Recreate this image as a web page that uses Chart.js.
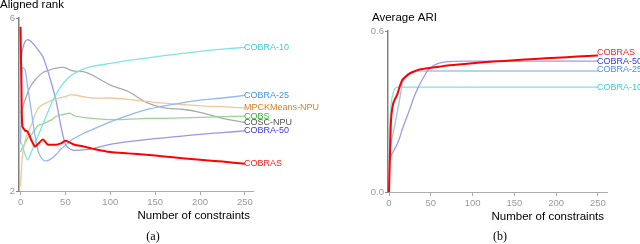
<!DOCTYPE html>
<html>
<head>
<meta charset="utf-8">
<script src="https://cdn.jsdelivr.net/npm/chart.js@4"></script>
<style>
  html, body { margin: 0; padding: 0; background: #fff; }
  #wrap { position: relative; width: 640px; height: 244px; }
  canvas { position: absolute; top: 0; }
  #rank { left: 0; }
  #ari { left: 320px; }
</style>
</head>
<body>
<div id="wrap">
  <canvas id="rank" width="320" height="244"></canvas>
  <canvas id="ari" width="320" height="244"></canvas>
</div>
<script>
// (a) aligned rank
const rankX = [0, 1, 2, 5, 8, 12, 16, 20, 25, 30, 35, 40, 45, 50, 55, 60, 70, 80, 100, 120, 140, 160, 180, 200, 225, 250];
const rankCobras = [5.8, 4.4, 3.5, 3.4, 3.37, 3.18, 3.03, 3.1, 3.19, 3.08, 3.07, 3.07, 3.1, 3.16, 3.12, 3.07, 3.03, 2.98, 2.9, 2.87, 2.84, 2.8, 2.76, 2.72, 2.68, 2.63];
const rankCobra10 = [3.1, 3.1, 3.05, 2.85, 2.72, 2.9, 3.1, 3.3, 3.55, 3.8, 4.05, 4.25, 4.42, 4.55, 4.65, 4.72, 4.82, 4.88, 4.95, 5.02, 5.07, 5.13, 5.18, 5.23, 5.28, 5.32];
const rankCobra25 = [3.1, 4.0, 4.85, 4.8, 4.4, 3.85, 3.3, 2.9, 2.72, 2.7, 2.76, 2.85, 2.97, 3.05, 3.15, 3.22, 3.33, 3.42, 3.6, 3.75, 3.88, 3.97, 4.04, 4.1, 4.15, 4.21];
const rankCobra50 = [5.0, 5.1, 5.25, 5.45, 5.5, 5.45, 5.36, 5.25, 5.1, 4.8, 4.45, 4.05, 3.5, 3.08, 2.97, 2.94, 2.95, 2.98, 3.08, 3.14, 3.19, 3.23, 3.27, 3.31, 3.35, 3.39];
const rankCosc = [3.8, 3.85, 3.92, 4.1, 4.28, 4.45, 4.56, 4.65, 4.74, 4.78, 4.82, 4.84, 4.86, 4.85, 4.8, 4.77, 4.76, 4.68, 4.45, 4.3, 4.05, 3.92, 3.89, 3.82, 3.68, 3.58];
const rankMpck = [2.1, 2.5, 2.8, 3.15, 3.35, 3.52, 3.75, 3.92, 4.0, 4.05, 4.1, 4.13, 4.16, 4.18, 4.22, 4.22, 4.18, 4.15, 4.15, 4.12, 4.07, 4.03, 4.0, 3.97, 3.95, 3.92];
const rankCobs = [2.9, 2.95, 3.0, 3.1, 3.22, 3.3, 3.42, 3.52, 3.55, 3.6, 3.65, 3.73, 3.76, 3.78, 3.8, 3.74, 3.7, 3.68, 3.65, 3.66, 3.68, 3.68, 3.69, 3.7, 3.72, 3.73];
const rankTicks = [2, 6];

// (b) average ARI
const ariX = [0, 1, 2, 3, 5, 7, 10, 13, 16, 20, 25, 30, 35, 40, 45, 50, 55, 60, 70, 80, 100, 125, 150, 175, 200, 225, 250];
const ariCobras = [0, 0.12, 0.24, 0.29, 0.33, 0.345, 0.365, 0.395, 0.418, 0.43, 0.442, 0.449, 0.455, 0.458, 0.461, 0.463, 0.465, 0.467, 0.471, 0.474, 0.48, 0.486, 0.491, 0.496, 0.5, 0.505, 0.509];
const ariCobra50 = [0.11, 0.12, 0.13, 0.14, 0.15, 0.162, 0.18, 0.205, 0.235, 0.268, 0.31, 0.355, 0.39, 0.42, 0.447, 0.464, 0.474, 0.48, 0.486, 0.487, 0.488, 0.488, 0.488, 0.488, 0.488, 0.488, 0.488];
const ariCobra25 = [0.13, 0.15, 0.17, 0.19, 0.22, 0.25, 0.3, 0.35, 0.405, 0.432, 0.445, 0.45, 0.451, 0.451, 0.451, 0.451, 0.451, 0.451, 0.451, 0.451, 0.451, 0.451, 0.451, 0.451, 0.451, 0.451, 0.451];
const ariCobra10 = [0.16, 0.25, 0.31, 0.34, 0.37, 0.385, 0.391, 0.391, 0.391, 0.391, 0.391, 0.391, 0.391, 0.391, 0.391, 0.391, 0.391, 0.391, 0.391, 0.391, 0.391, 0.391, 0.391, 0.391, 0.391, 0.391, 0.391];
const ariTicks = [0, 0.6];

const xTicks = [0, 50, 100, 150, 200, 250];

const FONT = '"Liberation Sans", Arial, sans-serif';

function pts(xs, ys) {
  return xs.map((x, i) => ({ x: x, y: ys[i] }));
}

function series(label, xs, ys, line, text, width, shift) {
  return {
    label: label,
    data: pts(xs, ys),
    borderColor: line,
    borderWidth: width || 1.3,
    pointRadius: 0,
    tension: 0.25,
    labelColor: text,
    labelShift: shift || 0,
  };
}

// end labels, axis titles, caption
const textPlugin = {
  id: "texts",
  afterDraw(chart, args, opts) {
    const ctx = chart.ctx;
    const a = chart.chartArea;
    ctx.save();
    ctx.textBaseline = "middle";
    ctx.textAlign = "left";
    ctx.font = "9px " + FONT;
    chart.data.datasets.forEach((ds, i) => {
      const pts = chart.getDatasetMeta(i).data;
      const last = pts[pts.length - 1];
      ctx.fillStyle = ds.labelColor;
      ctx.fillText(ds.label, last.x - 1, last.y + ds.labelShift);
    });
    ctx.fillStyle = "#000";
    ctx.font = "11.5px " + FONT;
    ctx.fillText(opts.yTitle, a.left + opts.yTitleDx, a.top - 13);
    ctx.textAlign = "right";
    ctx.fillText("Number of constraints", a.right - 3, a.bottom + 25);
    ctx.textAlign = "center";
    ctx.font = '12px "Liberation Serif", "Times New Roman", serif';
    ctx.fillText(opts.caption, opts.captionX, 237);
    ctx.restore();
  },
};

function makeOptions(cfg) {
  return {
    responsive: false,
    animation: false,
    devicePixelRatio: 1,
    layout: { padding: cfg.padding },
    plugins: {
      legend: { display: false },
      tooltip: { enabled: false },
      texts: cfg.texts,
    },
    scales: {
      x: {
        type: "linear",
        min: cfg.xMin,
        max: cfg.xMax,
        afterBuildTicks: (s) => { s.ticks = xTicks.map((v) => ({ value: v })); },
        afterFit: (s) => { s.height = cfg.xHeight; },
        grid: { drawOnChartArea: false, tickLength: 4, color: "#aaa" },
        border: { color: "#aaa", width: 1 },
        ticks: { color: "#999", font: { family: FONT, size: 9.5 }, padding: 2, maxRotation: 0 },
      },
      y: {
        type: "linear",
        min: cfg.yTicks[0],
        max: cfg.yTicks[1],
        afterBuildTicks: (s) => { s.ticks = cfg.yTicks.map((v) => ({ value: v })); },
        afterFit: (s) => { s.width = cfg.yWidth; },
        grid: { drawOnChartArea: false, tickLength: 3, color: "#888" },
        border: { color: "#808080", width: 1.5 },
        ticks: { color: "#999", font: { family: FONT, size: 9.5 }, padding: 1, callback: cfg.fmt },
      },
    },
  };
}

new Chart(document.getElementById("rank"), {
  type: "line",
  data: {
    datasets: [
      series("COBRAS", rankX, rankCobras, "#ff0000", "#ff1a1a", 2),
      series("COBRA-10", rankX, rankCobra10, "#7ee4e4", "#3ccfd2"),
      series("COBRA-25", rankX, rankCobra25, "#92b9f0", "#4a8fe4"),
      series("MPCKMeans-NPU", rankX, rankMpck, "#f2c69c", "#d9812c"),
      series("COBS", rankX, rankCobs, "#98d498", "#36b036"),
      series("COSC-NPU", rankX, rankCosc, "#aaaaaa", "#505050"),
      series("COBRA-50", rankX, rankCobra50, "#9898e6", "#3a3ae0"),
    ],
  },
  options: makeOptions({
    padding: { left: 0, top: 18, right: 67, bottom: 0 },
    xMin: -1.7, xMax: 259,
    xHeight: 53, yWidth: 19,
    yTicks: rankTicks,
    fmt: (v) => String(v),
    texts: { yTitle: "Aligned rank", yTitleDx: -19, caption: "(a)", captionX: 153 },
  }),
  plugins: [textPlugin],
});

new Chart(document.getElementById("ari"), {
  type: "line",
  data: {
    datasets: [
      series("COBRAS", ariX, ariCobras, "#ff0000", "#ff1a1a", 2, -3),
      series("COBRA-50", ariX, ariCobra50, "#9c9ce8", "#3434d8"),
      series("COBRA-25", ariX, ariCobra25, "#a2c2f0", "#4a8fe4", 1.3, -1),
      series("COBRA-10", ariX, ariCobra10, "#7ee4e4", "#3ccfd2"),
    ],
  },
  options: makeOptions({
    padding: { left: 0, top: 31, right: 33, bottom: 0 },
    xMin: -1.2, xMax: 260.8,
    xHeight: 52, yWidth: 68,
    yTicks: ariTicks,
    fmt: (v) => v.toFixed(1),
    texts: { yTitle: "Average ARI", yTitleDx: -16, caption: "(b)", captionX: 180 },
  }),
  plugins: [textPlugin],
});
</script>
</body>
</html>
